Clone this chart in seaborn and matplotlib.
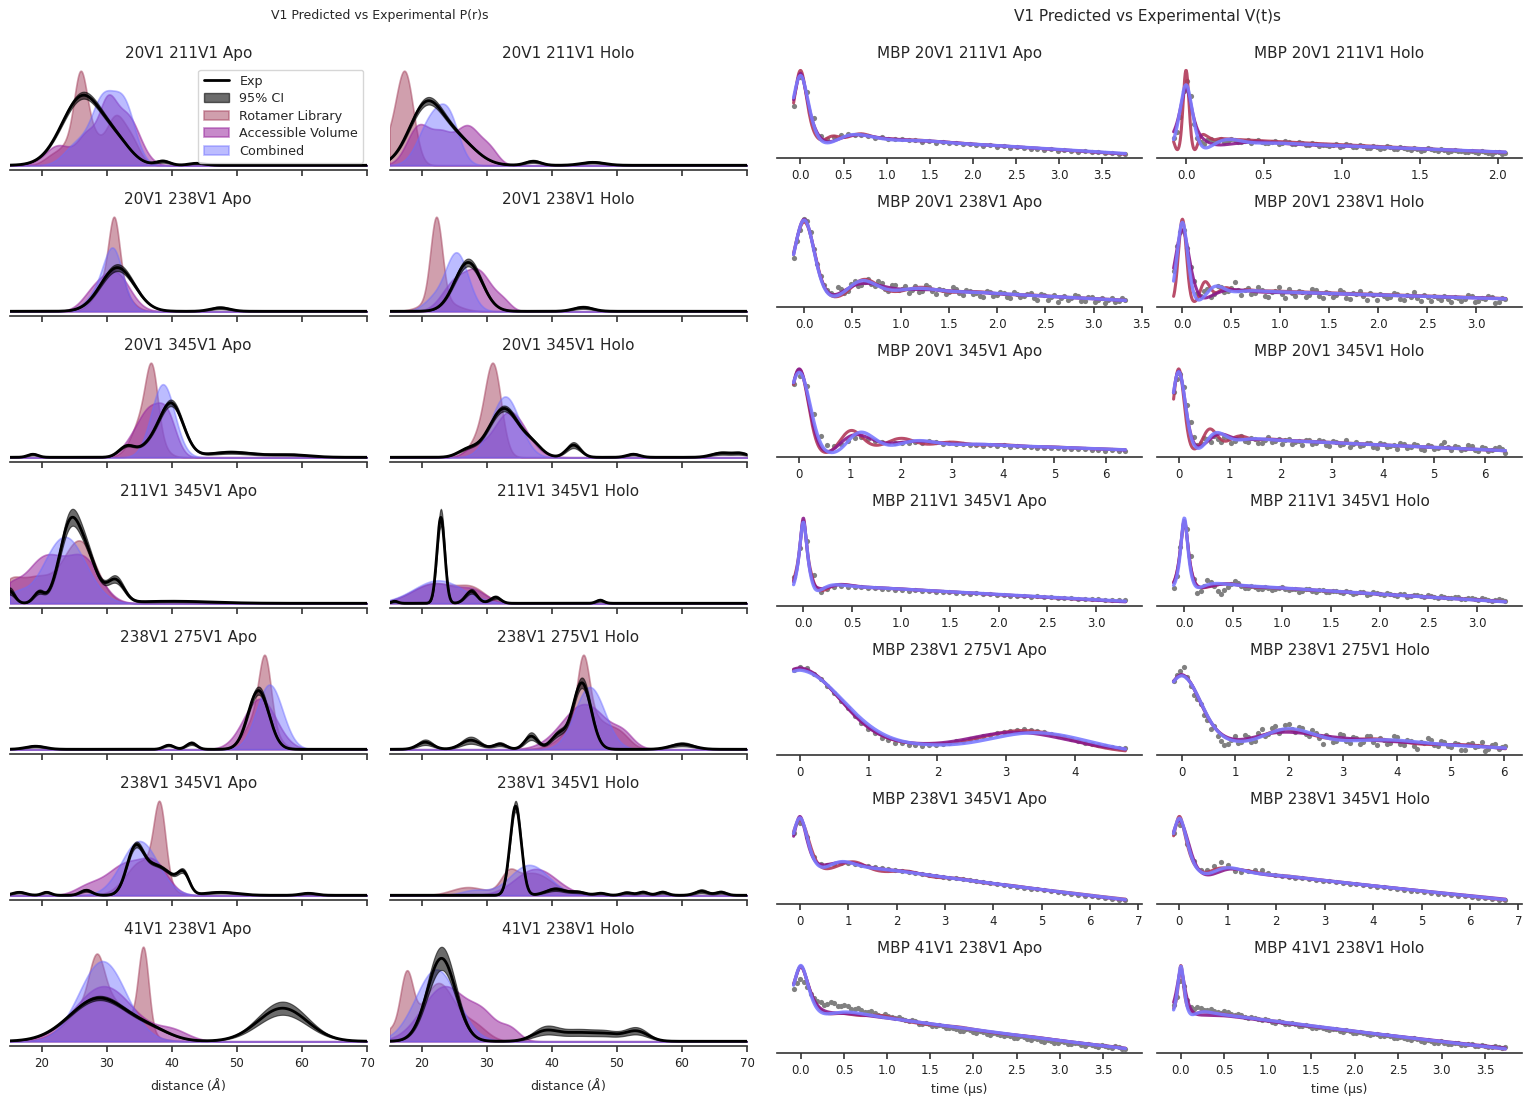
import numpy as np
import matplotlib
matplotlib.use("Agg")
import matplotlib.pyplot as plt
from matplotlib.lines import Line2D
from matplotlib.patches import Patch
import seaborn as sns

sns.set_style("ticks")
plt.rcParams.update({
    "font.family": ["DejaVu Sans"],
    "xtick.labelsize": 8.5,
    "axes.titlesize": 11,
    "axes.labelsize": 9,
    "axes.linewidth": 1.2,
    "axes.edgecolor": "#333333",
    "xtick.color": "#222222",
    "xtick.major.size": 4.5,
    "xtick.major.width": 1.1,
})

# ---------------------------------------------------------------- labels
pairs = ["20V1 211V1", "20V1 238V1", "20V1 345V1", "211V1 345V1",
         "238V1 275V1", "238V1 345V1", "41V1 238V1"]
states = ["Apo", "Holo"]
labels = [f"{p} {s}" for p in pairs for s in states]

# ---------------------------------------------------------------- P(r) peak tables
# experimental: (centre Å, width Å, height, relative 95% CI half-width)
exp_peaks = [
    [(26.3, 3.2, 70, 0.05), (31.8, 2.2, 15, 0.05), (38.6, 1.1, 4, 0.4), (43.8, 1.2, 2, 0.4)],
    [(20.6, 2.6, 60, 0.06), (25.5, 2.8, 24, 0.05), (37.1, 1.2, 4, 0.4), (46.3, 1.8, 3, 0.4)],
    [(31.6, 2.6, 44, 0.08), (47.4, 1.5, 3.5, 0.4)],
    [(27.1, 2.1, 50, 0.08), (44.8, 1.5, 4, 0.4)],
    [(40.0, 1.8, 50, 0.06), (37.0, 2.0, 12, 0.06), (33.0, 1.2, 10, 0.1), (49.0, 3.5, 5, 0.3),
     (58.0, 3.0, 2.5, 0.4), (18.6, 0.8, 3, 0.4)],
    [(32.6, 2.3, 48, 0.06), (37.0, 1.5, 10, 0.08), (27.0, 1.5, 7, 0.15), (43.3, 1.1, 12, 0.25),
     (52.5, 1.0, 3, 0.4), (66.0, 1.5, 4, 0.4), (69.0, 1.2, 3.5, 0.4)],
    [(24.4, 1.7, 78, 0.1), (27.3, 1.5, 32, 0.08), (31.3, 1.3, 22, 0.15), (19.5, 0.8, 10, 0.2),
     (15.0, 0.8, 12, 0.3), (40.0, 6.0, 2, 0.5)],
    [(22.9, 0.6, 86, 0.1), (27.6, 0.9, 12, 0.2), (31.3, 0.8, 6, 0.3), (47.4, 0.6, 3, 0.5),
     (15.8, 0.5, 2, 0.5)],
    [(53.3, 1.6, 58, 0.07), (43.0, 0.8, 6, 0.3), (39.5, 0.8, 4, 0.3), (19.0, 1.5, 3, 0.4)],
    [(44.6, 1.4, 66, 0.08), (41.0, 1.2, 14, 0.2), (36.8, 1.0, 13, 0.3), (27.5, 1.5, 9, 0.4),
     (20.5, 1.2, 7, 0.4), (32.0, 1.0, 5, 0.4), (60.0, 1.8, 5, 0.4)],
    [(34.3, 1.3, 45, 0.06), (37.5, 1.8, 28, 0.05), (41.8, 0.9, 20, 0.1), (40.0, 1.2, 8, 0.1),
     (47.5, 2.5, 3, 0.4), (26.8, 0.9, 5, 0.3), (20.7, 0.7, 3, 0.4), (16.5, 1.0, 3, 0.4),
     (61.0, 1.2, 2, 0.5)],
    [(34.4, 0.85, 88, 0.06), (40.5, 1.5, 6, 0.3), (44.0, 1.2, 3, 0.4), (47.5, 0.8, 2, 0.5),
     (51.5, 0.8, 2.5, 0.5), (54.0, 0.8, 3, 0.5), (57.0, 0.8, 3, 0.5), (63.0, 1.0, 4, 0.5),
     (66.0, 0.8, 3, 0.5)],
    [(28.8, 4.5, 43, 0.05), (37.0, 3.0, 8, 0.1), (57.0, 3.8, 33, 0.2)],
    [(23.0, 2.2, 83, 0.14), (39.0, 2.0, 10, 0.4), (44.0, 2.5, 8, 0.4), (48.5, 2.0, 6, 0.4),
     (53.0, 1.8, 10, 0.35)],
]

# predictions: (centre Å, width Å, height)
rot_peaks = [
    [(21.8, 1.5, 9), (25.9, 0.9, 48), (26.3, 2.0, 48), (31.3, 1.4, 45), (33.8, 1.3, 22)],
    [(15.0, 1.5, 22), (17.4, 1.3, 90)],
    [(31.1, 0.8, 58), (30.7, 2.0, 38)],
    [(22.2, 0.9, 85), (22.6, 2.4, 12)],
    [(36.9, 0.9, 55), (35.9, 1.8, 45)],
    [(31.0, 1.2, 75), (29.5, 1.8, 25)],
    [(25.8, 2.5, 60), (19.0, 2.8, 25), (15.0, 1.5, 15)],
    [(22.0, 3.5, 20), (27.8, 2.0, 12)],
    [(54.3, 0.9, 60), (53.5, 2.0, 36)],
    [(44.8, 0.9, 60), (45.5, 3.0, 35), (50.5, 1.5, 10)],
    [(38.1, 0.9, 75), (35.5, 2.5, 35)],
    [(33.3, 1.2, 15), (37.0, 3.0, 22), (27.0, 2.5, 8)],
    [(28.4, 1.1, 40), (35.6, 0.8, 82), (29.0, 4.0, 48)],
    [(17.6, 1.0, 62), (22.5, 2.5, 58), (28.0, 2.0, 15), (15.0, 1.0, 10)],
]
acc_peaks = [
    [(22.5, 2.0, 20), (27.0, 1.5, 30), (30.0, 1.3, 50), (33.0, 2.0, 50)],
    [(19.5, 1.8, 40), (23.0, 1.5, 25), (27.0, 2.0, 40), (30.5, 1.3, 12)],
    [(31.3, 2.2, 38), (27.8, 1.8, 15)],
    [(25.0, 2.0, 28), (28.8, 2.0, 38), (32.5, 1.2, 8)],
    [(36.5, 1.8, 45), (39.3, 1.4, 35), (33.5, 1.5, 10)],
    [(33.5, 2.5, 45), (28.0, 1.5, 8)],
    [(20.5, 3.0, 45), (26.5, 2.5, 40), (15.0, 1.5, 12)],
    [(22.0, 3.5, 20), (28.0, 2.0, 10)],
    [(53.5, 2.5, 50)],
    [(45.0, 3.5, 45), (51.0, 1.5, 10)],
    [(33.0, 3.0, 32), (37.5, 2.0, 25), (27.0, 2.0, 8)],
    [(37.5, 3.2, 26)],
    [(29.5, 4.5, 55), (40.0, 2.5, 10)],
    [(23.5, 3.5, 55), (29.5, 2.0, 20), (33.5, 1.5, 12)],
]
comb_peaks = [
    [(25.5, 2.0, 22), (29.3, 1.7, 60), (32.6, 1.7, 60)],
    [(21.4, 2.0, 45), (24.2, 1.6, 40)],
    [(31.0, 1.4, 42), (29.8, 2.3, 25)],
    [(25.3, 1.8, 60), (21.5, 1.5, 10)],
    [(38.6, 1.8, 73)],
    [(32.8, 2.2, 60)],
    [(23.5, 3.2, 65), (16.0, 1.5, 8)],
    [(22.5, 3.8, 23)],
    [(55.0, 2.0, 64)],
    [(45.8, 2.3, 62)],
    [(35.0, 2.8, 55)],
    [(36.5, 3.0, 30), (28.0, 2.0, 5)],
    [(29.3, 3.6, 80)],
    [(22.2, 3.2, 72)],
]

# ---------------------------------------------------------------- V(t) traces
t_start = [-0.08, -0.08, -0.11, -0.09, -0.11, -0.10, -0.10, -0.11, -0.09, -0.15,
           -0.13, -0.12, -0.084, -0.084]
t_end = [3.77, 2.05, 3.33, 3.30, 6.39, 6.40, 3.30, 3.29, 4.73, 6.02, 6.73, 6.73, 3.76, 3.73]
mod_depth = [0.15, 0.15, 0.15, 0.15, 0.15, 0.15, 0.15, 0.15, 0.15, 0.15, 0.15, 0.15, 0.15, 0.15]
bg_rate = [0.0172, 0.0204, 0.0153, 0.0082, 0.0051, 0.0067, 0.0157, 0.0174, 0.015, 0.0124,
           0.0312, 0.0222, 0.0558, 0.0484]

v_exp = [
    [54, 83, 68, 42, 24, 21, 23.5, 25, 26, 25.3, 24.6, 24.0, 22.4, 22.8, 21.3, 21.0, 20.6, 19.5,
     19.9, 18.4, 18.7, 17.3, 17.6, 16.8, 16.5, 15.6, 15.9, 15.0, 14.3, 14.5, 13.4, 13.5, 12.3,
     12.8, 11.5, 11.2, 11.0, 10.3, 10.6, 9.4, 9.5, 8.8, 8.1, 8.6, 7.5, 7.7, 6.7, 7.2, 6.0, 6.4],
    [23, 30, 45, 72, 82, 66, 38, 24, 19, 17.5, 21, 22, 19.5, 20.5, 22, 19, 20.5, 22.5, 21.5, 19.5,
     19, 20, 21, 18.5, 20, 21, 19.5, 18, 18, 19.5, 20.5, 17.5, 18.5, 20, 19, 17.5, 17, 19, 18.5, 16,
     16.5, 18, 17.5, 15.5, 16.5, 16.5, 15, 16, 17, 14.5, 15.5, 17, 16, 14, 14.5, 16.5, 15.5, 13,
     13.5, 15.5, 14.5, 12.5, 13.5, 15, 14, 12.5, 12, 14, 13.5, 12, 11.5, 13.5, 12.5, 10.5, 11.5,
     13, 12, 11, 10, 12, 11.5, 9.5, 10, 11.5, 10.5, 10, 9, 9.5, 10.5, 9.5, 8.5, 10.5, 9.5, 8, 7.5,
     9.5, 9, 7, 8],
    [47, 62, 72, 82, 80, 70, 55, 41, 30, 22, 18, 15, 13, 20, 19, 15, 17, 23, 26, 21,
     22, 25, 28, 23, 21, 26, 24, 19, 17, 22, 22, 18, 19, 21, 15, 18, 21, 16, 17, 22,
     20, 17, 14, 19, 18, 14, 16, 20, 19, 15, 13, 18, 17, 14, 15, 12, 11, 17, 16, 12,
     13, 16, 15, 11, 10, 16, 14, 11, 12, 14, 15, 10, 9, 14, 13, 9, 11, 13, 7, 10,
     12, 9, 10, 13, 12, 8, 8, 11, 11, 7, 9, 10, 6, 9, 10, 7, 8, 10, 9],
    [40, 64, 78, 80, 62, 44, 30, 18, 15, 20, 22, 14, 17, 25, 24, 19, 20, 23, 29, 21,
     16, 21, 23, 17, 18, 24, 21, 15, 14, 19, 20, 24, 17, 13, 22, 18, 15, 20, 19, 14,
     16, 22, 21, 15, 13, 19, 18, 14, 16, 21, 19, 13, 12, 18, 17, 20, 15, 11, 18, 16,
     11, 17, 15, 13, 14, 18, 17, 12, 11, 16, 14, 19, 13, 10, 16, 14, 10, 15, 13, 11,
     15, 12, 9, 14, 13, 10, 12, 16, 15, 9, 10, 13, 12, 15, 14, 8, 9, 13, 12],
    [77, 85, 75, 45, 22, 13, 12, 14, 17, 20, 21, 19.5, 17.5, 16, 15, 14.7, 15.3, 14.5, 15.8, 15.1,
     16.5, 15.6, 14.2, 14.8, 13.5, 14, 12.7, 13.2, 12.1, 12.6, 11.4, 12.3, 10.9, 11.4, 10.3, 10.9,
     9.8, 10.1, 9.2, 9.8, 8.7, 9.1, 8.2, 8.8, 7.6, 8.1, 7.0, 7.6, 6.3, 6.9],
    [67, 80, 84, 72, 55, 38, 24, 16, 18, 23, 22, 19, 25, 22, 19, 24, 23, 18, 20, 23,
     25, 20, 19, 23, 22, 18, 18, 21, 24, 19, 20, 22, 17, 21, 22, 17, 19, 20, 16, 21,
     21, 17, 18, 21, 20, 16, 15, 20, 19, 16, 17, 21, 14, 17, 19, 15, 16, 18, 18, 14,
     13, 18, 17, 14, 15, 16, 12, 18, 17, 13, 14, 17, 16, 12, 11, 16, 15, 12, 13, 16,
     19, 14, 11, 15, 14, 11, 12, 16, 15, 11, 10, 14, 13, 10, 11, 13, 14, 12, 9],
    [33, 66, 74, 35, 15, 19, 21.5, 22.5, 21.5, 20.8, 20.6, 19.4, 19.8, 18.9, 18.7, 17.9, 18.2,
     16.9, 17.3, 16.2, 16.5, 15.1, 15.6, 14.9, 14.3, 14.1, 13.1, 13.7, 12.6, 12.8, 11.8, 12.1,
     11.0, 10.8, 10.9, 9.9, 10.1, 9.1, 9.5, 8.4, 8.2, 8.3, 7.4, 7.7, 6.7, 7.1, 6.1, 6.3, 5.5, 5.8],
    [19, 32, 62, 84, 80, 52, 28, 14, 16, 21, 27, 25, 21, 16, 13, 17, 20, 23, 26, 24,
     21, 19.5, 19, 21, 20.5, 18.5, 18, 20, 19.5, 17.5, 18.5, 19.5, 20, 18, 17, 18.5, 18, 15.5,
     16.5, 18, 18, 16, 15.5, 17.5, 17, 14.5, 15, 16.5, 16, 15, 14, 16, 15.5, 13, 13.5, 15, 14.5,
     12, 12.5, 14.5, 14, 13, 12, 13.5, 13, 11.5, 11, 13, 12.5, 10, 10.5, 12, 11.5, 10.5, 10, 11.5,
     11, 9.5, 9, 10.5, 10, 9, 8.5, 10, 9.5, 8, 7.5, 8.5, 9, 7.5, 7, 8.5, 8, 6.5, 6, 7, 7.5, 6.5, 6],
    [82, 84.5, 83.4, 78.2, 73.3, 66.1, 59.4, 51.6, 44.9, 37.2, 31.3, 25.2, 20.8, 16.3, 14.2, 11.8,
     11.2, 9.8, 9.7, 9.1, 9.8, 9.9, 11.0, 11.6, 13.2, 14.0, 15.7, 16.6, 18.2, 19.3, 21.2, 21.8,
     23.2, 23.8, 24.6, 23.9, 23.6, 21.8, 20.7, 18.8, 17.2, 15.3, 13.7, 11.8, 10.7, 9.3, 8.7, 7.6,
     7.1, 6.4],
    [73, 78, 82, 85, 76, 68, 60, 57, 52, 43, 38, 30, 33, 24, 20, 16, 17, 21, 24, 18,
     19, 25, 23, 19, 20, 27, 30, 24, 26, 31, 33, 27, 29, 34, 35, 30, 28, 32, 31, 26,
     24, 29, 27, 22, 17, 25, 23, 19, 20, 26, 25, 20, 18, 23, 22, 17, 19, 24, 24, 19,
     16, 22, 21, 17, 18, 24, 23, 17, 16, 21, 20, 15, 13, 19, 18, 22, 21, 16, 15, 20,
     19, 15, 14, 18, 17, 12, 12, 17, 18, 14, 15, 19, 11, 13, 16, 17, 13, 14, 15],
    [74.5, 85, 70, 49, 42.5, 41.5, 41.8, 43.2, 43.6, 42.6, 41.2, 39.6, 38.6, 37.9, 36.6, 35.9,
     34.7, 34.1, 32.9, 31.8, 30.9, 29.8, 28.6, 27.8, 27.1, 25.9, 25.0, 24.3, 23.1, 22.0, 21.2,
     20.1, 19.0, 18.2, 17.4, 16.3, 15.8, 14.4, 13.6, 12.5, 11.8, 10.6, 9.7, 8.8, 8.1, 7.0, 6.5,
     5.3, 4.7, 4.2],
    [77, 85, 65, 46, 37, 36.5, 41, 45, 42, 36, 34.5, 35.5, 36.5, 36.5, 33.5, 31.5, 30, 29, 28.5,
     27.8, 27, 26.2, 25.3, 24.5, 23.4, 22.8, 21.8, 21.2, 20.1, 19.5, 18.5, 17.8, 16.9, 16.1, 15.2,
     14.5, 13.6, 12.9, 12.0, 11.2, 10.4, 9.9, 9.0, 8.2, 7.5, 6.8, 6.1, 5.3, 4.8, 4.2],
    [73, 80, 84, 81, 75, 68, 63, 60, 58, 55, 56, 58, 57, 54, 53.5, 55.5, 54, 51, 50.5, 52,
     49, 47, 47.5, 48, 45.5, 43.5, 43, 44.5, 42.5, 41, 40, 41.5, 39.5, 37.5, 37, 38.5, 36.5, 34,
     34, 35, 33.5, 31.5, 31, 32.5, 31.5, 29, 28.5, 29.5, 28, 26, 26, 27.5, 26.5, 24, 23.5, 25.5,
     24.5, 22, 21.5, 23.5, 22, 20.5, 20, 21, 19.5, 17.5, 18, 19.5, 18.5, 16.5, 15.5, 17.5, 16.5,
     14, 13.5, 15.5, 14.5, 12.5, 12.5, 14, 13, 11, 10.5, 12.5, 11.5, 9.5, 8.5, 10.5, 10, 8, 7.5,
     9.5, 8.5, 7, 6, 8, 7.5, 5, 5.5],
    [55, 64, 82, 76, 60, 53, 51, 53, 52, 50, 49, 50.5, 48.5, 47, 46, 48, 47, 44.5, 43.5, 45,
     44, 41.5, 40.5, 42, 41, 39, 38.5, 40, 38.5, 36, 35.5, 37.5, 36.5, 34.5, 33.5, 35, 34, 32,
     31.5, 33, 31.5, 29.5, 29.5, 31, 30, 28, 27.5, 29, 28, 26, 25.5, 27.5, 26.5, 24, 23.5, 25.5,
     24.5, 22.5, 21.5, 23, 22.5, 21, 20.5, 22, 20.5, 19, 18.5, 19.5, 18.5, 17, 16.5, 18, 17.5,
     15.5, 14.5, 16.5, 15.5, 13.5, 13.5, 15, 13.5, 12, 11.5, 13, 12.5, 11, 10.5, 12, 11.5, 9.5,
     9.5, 10.5, 10, 8.5, 8, 9.5, 9, 7.5, 8],
]

# ---------------------------------------------------------------- styling
ROT_FILL, ACC_FILL, COMB_FILL = "#a3405c", "#9a2aa0", "#6b6bff"
ROT_LINE, ACC_LINE, COMB_LINE = "#b23a5a", "#8b1a8b", "#7b7bff"
EXP_DOT = "#808080"
CI_ALPHA = 0.58

r = np.arange(15.0, 70.0001, 0.1)


def peaks_to_curve(x, peaks, scale=None):
    y = np.zeros_like(x)
    for pk in peaks:
        c, w, h = pk[:3]
        f = 1.0 if scale is None else 1.0 + scale * pk[3]
        y += h * f * np.exp(-0.5 * ((x - c) / w) ** 2)
    return y


# dipolar kernel tabulated against omega*t
x_tab = np.linspace(0.0, 800.0, 20001)
z = (np.arange(4000) + 0.5) / 4000
k_tab = np.zeros_like(x_tab)
for zc in np.array_split(z, 40):
    k_tab += np.cos(np.outer(x_tab, 1.0 - 3.0 * zc ** 2)).sum(axis=1)
k_tab /= z.size
omega = 2 * np.pi * 52.04 / (r / 10.0) ** 3


def dipolar_signal(t, pr, lam, k):
    X = np.abs(t)[:, None] * omega[None, :]
    D = np.interp(X, x_tab, k_tab) @ pr / pr.sum()
    return (1 - lam + lam * D) * np.exp(-k * np.abs(t))


fig = plt.figure(figsize=(15.38, 10.97), dpi=100)
W, H = 1538.0, 1097.0


def px_axes(x0, y_bottom, w, h):
    return fig.add_axes([x0 / W, 1 - y_bottom / H, w / W, h / H])


left_x = [9.5, 389.5]
left_bottom = [170, 316, 462, 608, 754, 900, 1046]
right_x = [777, 1157]
right_bottom = [158.3, 307, 456.7, 606, 755, 904.3, 1053.3]

for i, name in enumerate(labels):
    row, col = divmod(i, 2)

    # ---------------- distance distributions
    ax = px_axes(left_x[col], left_bottom[row], 357.5, 104)
    rot = peaks_to_curve(r, rot_peaks[i])
    acc = peaks_to_curve(r, acc_peaks[i])
    comb = peaks_to_curve(r, comb_peaks[i])
    ex = peaks_to_curve(r, exp_peaks[i])
    lo = peaks_to_curve(r, exp_peaks[i], -1.0)
    hi = peaks_to_curve(r, exp_peaks[i], 1.0)
    ax.fill_between(r, 0, rot, facecolor=ROT_FILL, edgecolor=ROT_FILL, alpha=0.5, lw=1.2)
    ax.fill_between(r, 0, acc, facecolor=ACC_FILL, edgecolor=ACC_FILL, alpha=0.55, lw=1.2)
    ax.fill_between(r, 0, comb, facecolor=COMB_FILL, edgecolor=COMB_FILL, alpha=0.45, lw=1.2)
    ax.fill_between(r, lo, hi, facecolor="black", edgecolor="black", alpha=CI_ALPHA, lw=0.8)
    sns.lineplot(x=r, y=ex, color="black", lw=2.0, ax=ax, sort=False, estimator=None)
    ax.set_xlim(15, 70)
    ax.set_xticks([20, 30, 40, 50, 60, 70])
    ax.set_yticks([])
    ax.set_ylabel("")
    ax.set_title(name)
    sns.despine(ax=ax, left=True)
    if row < 6:
        ax.tick_params(axis="x", labelbottom=False)
    else:
        ax.set_xlabel(r"distance ($\AA$)")
    if i == 0:
        handles = [
            Line2D([], [], color="black", lw=2.0),
            Patch(facecolor="black", edgecolor="black", alpha=CI_ALPHA),
            Patch(facecolor=ROT_FILL, edgecolor=ROT_FILL, alpha=0.5, lw=1.2),
            Patch(facecolor=ACC_FILL, edgecolor=ACC_FILL, alpha=0.55, lw=1.2),
            Patch(facecolor=COMB_FILL, edgecolor=COMB_FILL, alpha=0.45, lw=1.2),
        ]
        ax.legend(handles, ["Exp", "95% CI", "Rotamer Library", "Accessible Volume", "Combined"],
                  loc="upper right", fontsize=9.2, labelspacing=0.35, handlelength=2.0,
                  borderaxespad=0.3, frameon=True)

    # ---------------- time traces
    ax2 = px_axes(right_x[col], right_bottom[row], 365, 92)
    h_exp = np.array(v_exp[i], dtype=float)
    t_exp = np.linspace(t_start[i], t_end[i], h_exp.size)
    t_fine = np.linspace(t_start[i], t_end[i], 600)
    sns.scatterplot(x=t_exp, y=h_exp, color=EXP_DOT, s=14, linewidth=0, ax=ax2, zorder=1)
    for peaks, colr, lw, z_ in ((rot_peaks[i], ROT_LINE, 2.2, 2),
                                (acc_peaks[i], ACC_LINE, 2.2, 3),
                                (comb_peaks[i], COMB_LINE, 2.4, 4)):
        pr = peaks_to_curve(r, peaks)
        model_e = dipolar_signal(t_exp, pr, mod_depth[i], bg_rate[i])
        A = np.column_stack([model_e, np.ones_like(model_e)])
        coef = np.linalg.lstsq(A, h_exp, rcond=None)[0]
        fit = coef[0] * dipolar_signal(t_fine, pr, mod_depth[i], bg_rate[i]) + coef[1]
        sns.lineplot(x=t_fine, y=fit, color=colr, lw=lw, alpha=0.9, ax=ax2,
                     sort=False, estimator=None, zorder=z_)
    ax2.set_yticks([])
    ax2.set_ylabel("")
    ax2.set_title("MBP " + name)
    sns.despine(ax=ax2, left=True)
    if row == 6:
        ax2.set_xlabel("time (µs)")

fig.text(380 / W, 1 - 16 / H, "V1 Predicted vs Experimental P(r)s", ha="center", va="center",
         fontsize=9)
fig.text(1147 / W, 1 - 16 / H, "V1 Predicted vs Experimental V(t)s", ha="center", va="center",
         fontsize=11)

fig.savefig("out.png", dpi=100)
